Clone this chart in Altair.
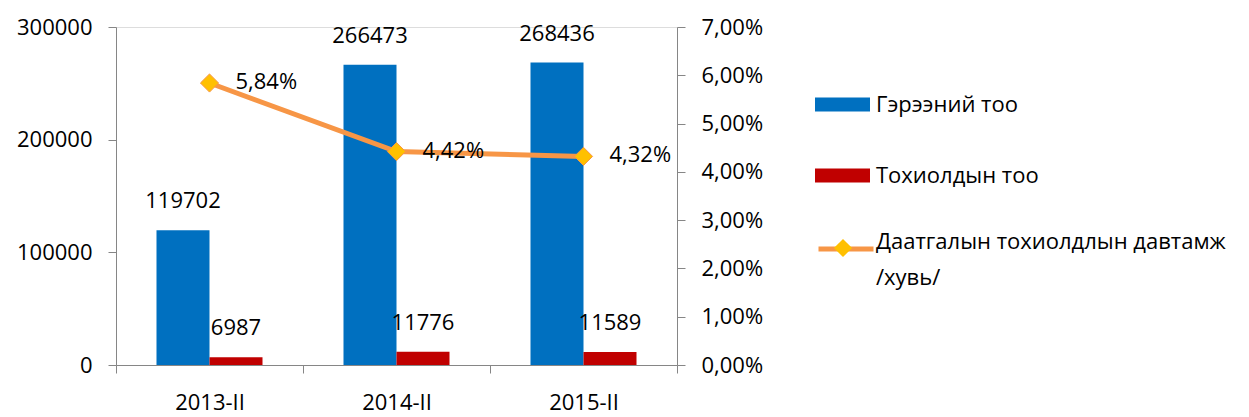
import altair as alt
import pandas as pd

categories = ["2013-II", "2014-II", "2015-II"]
contracts = [119702, 266473, 268436]
claims = [6987, 11776, 11589]
frequency = [0.0584, 0.0442, 0.0432]

s_contracts = "Гэрээний тоо"
s_claims = "Тохиолдын тоо"
s_freq = "Даатгалын тохиолдлын давтамж /хувь/"

FONT = "Open Sans"
FS = 22
GRAY = "#868686"

bars_df = pd.DataFrame({
    "cat": categories * 2,
    "series": [s_contracts] * 3 + [s_claims] * 3,
    "value": contracts + claims,
})
line_df = pd.DataFrame({
    "cat": categories,
    "freq": frequency,
    "s_line": [s_freq] * 3,
    "s_pt": [s_freq + " "] * 3,
})

x_enc = alt.X(
    "cat:N",
    sort=categories,
    scale=alt.Scale(paddingInner=0, paddingOuter=0),
    axis=alt.Axis(
        title=None, labelAngle=0, tickBand="extent", tickSize=8, tickColor=GRAY,
        domainColor=GRAY, labelFont=FONT, labelFontSize=FS, labelColor="black",
        labelPadding=19, grid=False,
    ),
)

y_left = alt.Y(
    "value:Q",
    scale=alt.Scale(domain=[0, 300000], nice=False),
    axis=alt.Axis(
        title=None, values=[0, 100000, 200000, 300000], format="d", grid=False,
        tickSize=8, tickColor=GRAY, domainColor=GRAY, labelFont=FONT,
        labelFontSize=FS, labelColor="black", labelPadding=16,
    ),
)

y_right = alt.Y(
    "freq:Q",
    scale=alt.Scale(domain=[0, 0.07], nice=False),
    axis=alt.Axis(
        title=None, orient="right", values=[0, 0.01, 0.02, 0.03, 0.04, 0.05, 0.06, 0.07],
        labelExpr="replace(format(datum.value * 100, '.2f'), '.', ',') + '%'",
        grid=False, tickSize=8, tickColor=GRAY, domainColor=GRAY, labelFont=FONT,
        labelFontSize=FS, labelColor="black", labelPadding=16,
    ),
)

xoff = alt.XOffset(
    "series:N",
    sort=[s_contracts, s_claims],
    scale=alt.Scale(domain=[s_contracts, s_claims], paddingInner=0, paddingOuter=0.764),
)

bar_base = alt.Chart(bars_df).encode(x=x_enc, xOffset=xoff, y=y_left)

bars = bar_base.mark_bar().encode(
    color=alt.Color(
        "series:N",
        scale=alt.Scale(domain=[s_contracts, s_claims], range=["#0070C0", "#C00000"]),
        legend=alt.Legend(
            title=None, orient="none", legendX=699, legendY=50,
            symbolType="M-1,-0.255H1V0.255H-1Z", symbolSize=3025,
            symbolStrokeWidth=0, rowPadding=32, labelOffset=6,
            labelFont=FONT, labelFontSize=FS, labelColor="black", labelLimit=600,
        ),
    )
)
bar_text = bar_base.mark_text(
    baseline="bottom", dy=-17, font=FONT, fontSize=FS, color="black"
).encode(text=alt.Text("value:Q", format="d"))

line_base = alt.Chart(line_df).encode(x=x_enc, y=y_right)

line = line_base.mark_line(strokeWidth=5).encode(
    stroke=alt.Stroke(
        "s_line:N",
        scale=alt.Scale(domain=[s_freq], range=["#F79646"]),
        legend=alt.Legend(
            title=None, orient="none", legendX=700, legendY=192,
            symbolType="stroke", symbolSize=3025, symbolStrokeWidth=5,
            labelOffset=0, labelFont=FONT, labelFontSize=FS, labelColor="black",
            labelLimit=700, labelBaseline="alphabetic",
            labelExpr="['Даатгалын тохиолдлын давтамж', '/хувь/']",
        ),
    )
)
points = line_base.mark_point(
    filled=True, fill="#FFC000", stroke="#F79646", strokeWidth=1, size=330, opacity=1
).encode(
    shape=alt.Shape(
        "s_pt:N",
        scale=alt.Scale(domain=[s_freq + " "], range=["diamond"]),
        legend=alt.Legend(
            title=None, orient="none", legendX=716, legendY=210,
            symbolSize=330, symbolFillColor="#FFC000", symbolStrokeColor="#F79646",
            symbolStrokeWidth=1, labelExpr="''", labelFontSize=FS,
        ),
    )
)
line_text = line_base.transform_calculate(
    lbl="replace(format(datum.freq * 100, '.2f'), '.', ',') + '%'"
).mark_text(
    align="left", baseline="middle", dx=26, dy=-1, font=FONT, fontSize=FS, color="black"
).encode(text="lbl:N")

left = alt.layer(bars, bar_text)
right = alt.layer(line, points, line_text)

chart = alt.layer(left, right).resolve_scale(
    y="independent", color="independent", stroke="independent", shape="independent"
).properties(
    width=561, height=338,
    autosize=alt.AutoSizeParams(type="none"),
    padding={"left": 108, "top": 19, "right": 560, "bottom": 52},
).configure_view(stroke=None).configure(
    style={"guide-label": {"lineHeight": 36}}
)

chart.save("out.html", embed_options={"renderer": "svg", "actions": False})
